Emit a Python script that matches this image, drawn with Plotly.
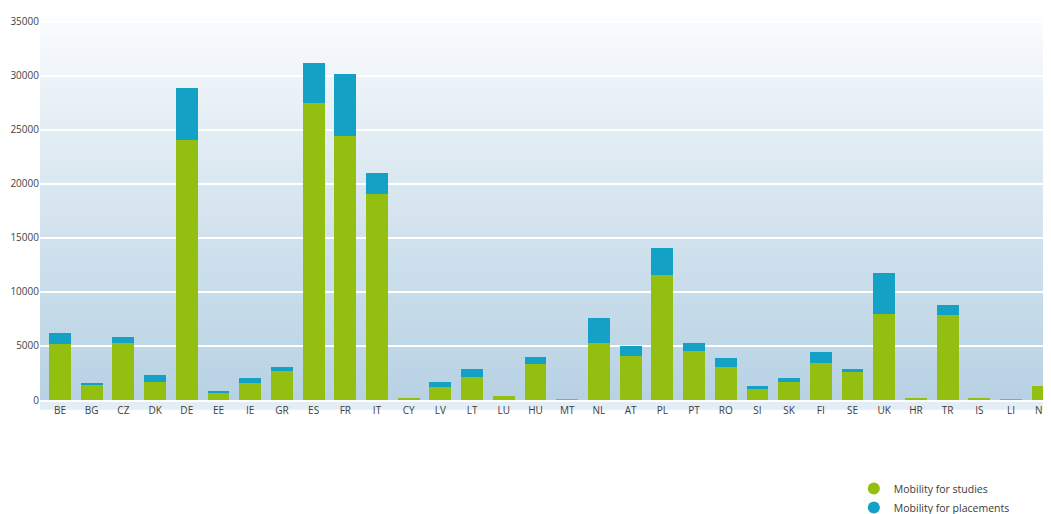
import plotly.graph_objects as go

countries = ["BE", "BG", "CZ", "DK", "DE", "EE", "IE", "GR", "ES", "FR", "IT", "CY", "LV", "LT",
             "LU", "HU", "MT", "NL", "AT", "PL", "PT", "RO", "SI", "SK", "FI", "SE", "UK", "HR",
             "TR", "IS", "LI", "NO"]
studies = [5150, 1390, 5250, 1700, 24070, 680, 1540, 2650, 27470, 24440, 19070, 120, 1170, 2160,
           400, 3300, 90, 5250, 4100, 11570, 4570, 3020, 1050, 1700, 3400, 2590, 7960, 150,
           7900, 150, 10, 1300]
placements = [1080, 210, 610, 580, 4850, 180, 460, 410, 3700, 5780, 1920, 0, 530, 710,
              0, 710, 0, 2310, 900, 2470, 740, 840, 280, 300, 1040, 280, 3770, 0,
              870, 0, 0, 0]
y_ticks = [0, 5000, 10000, 15000, 20000, 25000, 30000, 35000]
y_tick_labels = [str(v) for v in y_ticks]

GREEN = "#93bf10"
BLUE = "#13a1c6"
FONT = "Open Sans"

fig = go.Figure()
fig.add_trace(go.Bar(x=countries, y=studies, marker=dict(color=GREEN, line=dict(width=0)),
                     width=0.69, showlegend=False, name="Mobility for studies"))
fig.add_trace(go.Bar(x=countries, y=placements, marker=dict(color=BLUE, line=dict(width=0)),
                     width=0.69, showlegend=False, name="Mobility for placements"))
# legend entries with round markers
fig.add_trace(go.Scatter(x=[None], y=[None], mode="markers",
                         marker=dict(color=GREEN, size=8, symbol="circle"),
                         name="Mobility for studies"))
fig.add_trace(go.Scatter(x=[None], y=[None], mode="markers",
                         marker=dict(color=BLUE, size=8, symbol="circle"),
                         name="Mobility for placements"))

# background gradient (white top -> light blue bottom)
shapes = []
n = 60
top_c = (255, 255, 255)
bot_c = (184, 210, 228)
for i in range(n):
    t0 = i / n
    t1 = (i + 1) / n
    f = ((n - i - 0.5) / n) ** 0.8  # 1 at bottom, 0 at top
    c = tuple(int(round(top_c[k] + (bot_c[k] - top_c[k]) * f)) for k in range(3))
    shapes.append(dict(type="rect", xref="paper", yref="paper", x0=0, x1=1, y0=t0, y1=t1 + 0.002,
                       fillcolor="rgb(%d,%d,%d)" % c, line=dict(width=0), layer="below"))
# soft band under axis
shapes.append(dict(type="rect", xref="paper", yref="paper", x0=0, x1=1, y0=-0.025, y1=0,
                   fillcolor="rgba(220,232,242,0.8)", line=dict(width=0), layer="below"))

fig.update_layout(
    width=1051, height=514,
    margin=dict(l=32, r=8, t=2, b=122, autoexpand=False),
    paper_bgcolor="white",
    plot_bgcolor="rgba(0,0,0,0)",
    barmode="stack",
    bargap=0.3,
    shapes=shapes,
    font=dict(family=FONT, size=10, color="#444444"),
    xaxis=dict(range=[-0.63, 31.26], showgrid=False, zeroline=False, showline=True,
               linecolor="white", linewidth=2, ticks="", tickfont=dict(size=10, color="#3d3d3d"),
               fixedrange=True, automargin=False),
    yaxis=dict(range=[0, 36100], tickvals=y_ticks, ticktext=y_tick_labels, showgrid=True,
               gridcolor="white", gridwidth=1.5, zeroline=False, showline=False, ticks="",
               tickfont=dict(size=10, color="#444444"), ticklabelstandoff=0, fixedrange=True,
               automargin=False),
    legend=dict(x=0.805, y=-0.19, xanchor="left", yanchor="top", bgcolor="rgba(0,0,0,0)",
                font=dict(size=10.5, color="#3a3a3a"), itemsizing="constant", itemwidth=30,
                traceorder="normal", tracegroupgap=0),
    showlegend=True,
)

fig.write_html("out.html")
